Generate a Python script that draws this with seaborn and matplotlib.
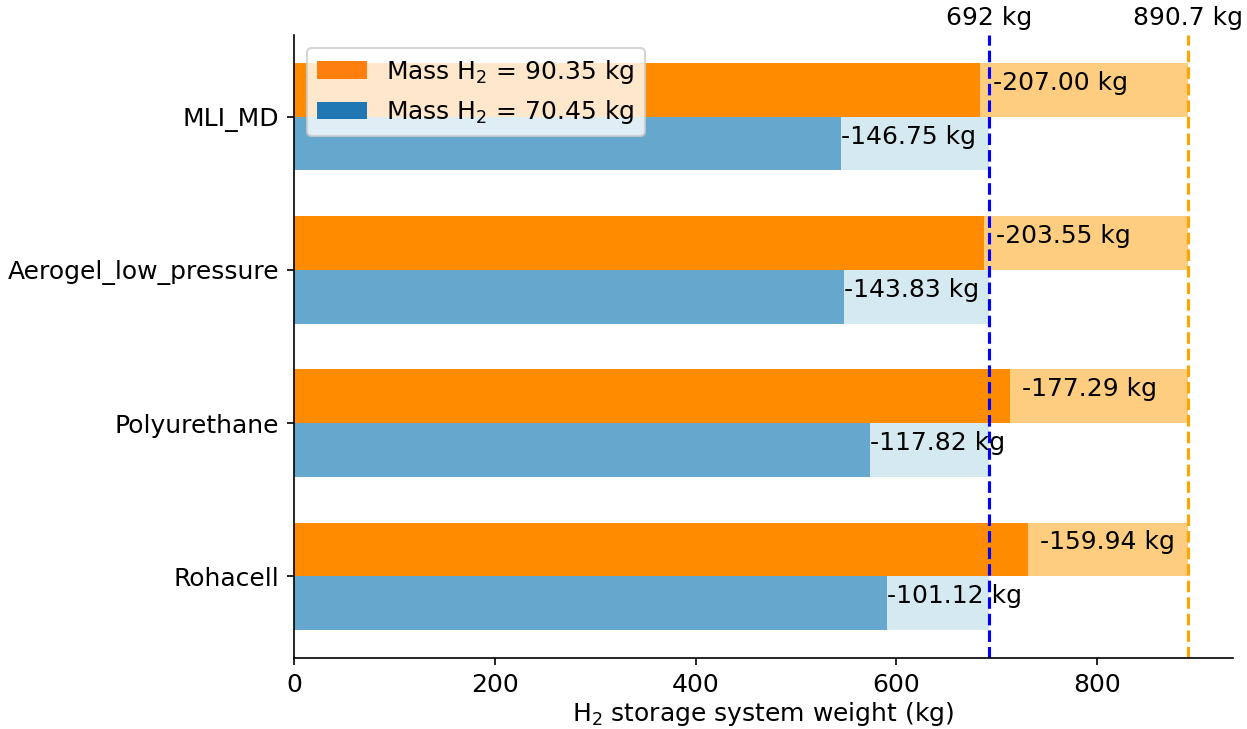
import matplotlib
matplotlib.use("Agg")
import matplotlib.pyplot as plt
import matplotlib.transforms as mtransforms
from matplotlib.patches import Patch
import seaborn as sns
import pandas as pd

categories = ["MLI_MD", "Aerogel_low_pressure", "Polyurethane", "Rohacell"]
diff_90 = [207.00, 203.55, 177.29, 159.94]
diff_70 = [146.75, 143.83, 117.82, 101.12]
ref_90 = 890.7
ref_70 = 692.0
series = ["Mass H$_2$ = 90.35 kg", "Mass H$_2$ = 70.45 kg"]

w90 = [ref_90 - d for d in diff_90]
w70 = [ref_70 - d for d in diff_70]

plt.style.use("default")
plt.rcParams["font.family"] = ["DejaVu Sans"]
plt.rcParams["font.size"] = 12

fig = plt.figure(figsize=(1247 / 150, 729 / 150), dpi=150)
ax = fig.add_axes([294 / 1247, 1 - 658 / 729, (1233 - 294) / 1247, (658 - 35) / 729])

df_full = pd.DataFrame({
    "cat": categories * 2,
    "val": [ref_90] * 4 + [ref_70] * 4,
    "series": [series[0]] * 4 + [series[1]] * 4,
})
df_bar = pd.DataFrame({
    "cat": categories * 2,
    "val": w90 + w70,
    "series": [series[0]] * 4 + [series[1]] * 4,
})

light = {series[0]: "#ffcd80", series[1]: "#d5eaf0"}
dark = {series[0]: "#ff8c00", series[1]: "#65a7cd"}

sns.barplot(data=df_full, x="val", y="cat", hue="series", hue_order=series,
            palette=light, orient="h", width=0.7, ax=ax, legend=False,
            errorbar=None, saturation=1, linewidth=0)
sns.barplot(data=df_bar, x="val", y="cat", hue="series", hue_order=series,
            palette=dark, orient="h", width=0.7, ax=ax, legend=False,
            errorbar=None, saturation=1, linewidth=0)

ax.axvline(ref_70, color="blue", linestyle="--", lw=1.5)
ax.axvline(ref_90, color="orange", linestyle="--", lw=1.5)
trans = mtransforms.blended_transform_factory(ax.transData, ax.transAxes)
ax.text(ref_70, 1.008, f"{ref_70:g} kg", transform=trans, ha="center", va="bottom")
ax.text(ref_90, 1.008, f"{ref_90:g} kg", transform=trans, ha="center", va="bottom")

for i in range(len(categories)):
    ax.text(w90[i] + 12, i - 0.175 - 0.045, f"-{diff_90[i]:.2f} kg", ha="left", va="center")
    ax.text(w70[i], i + 0.175 - 0.045, f"-{diff_70[i]:.2f} kg", ha="left", va="center")

ax.set_xlim(0, ref_90 * 1.05)
ax.set_ylim(3.535, -0.535)
ax.set_ylabel("")
ax.set_xlabel("H$_2$ storage system weight (kg)", labelpad=1.5)
ax.set_xticks([0, 200, 400, 600, 800])
sns.despine(ax=ax)

handles = [Patch(facecolor="#ff7f0e"), Patch(facecolor="#1f77b4")]
ax.legend(handles, series, loc="upper left")

fig.savefig("out.png", dpi=150)
